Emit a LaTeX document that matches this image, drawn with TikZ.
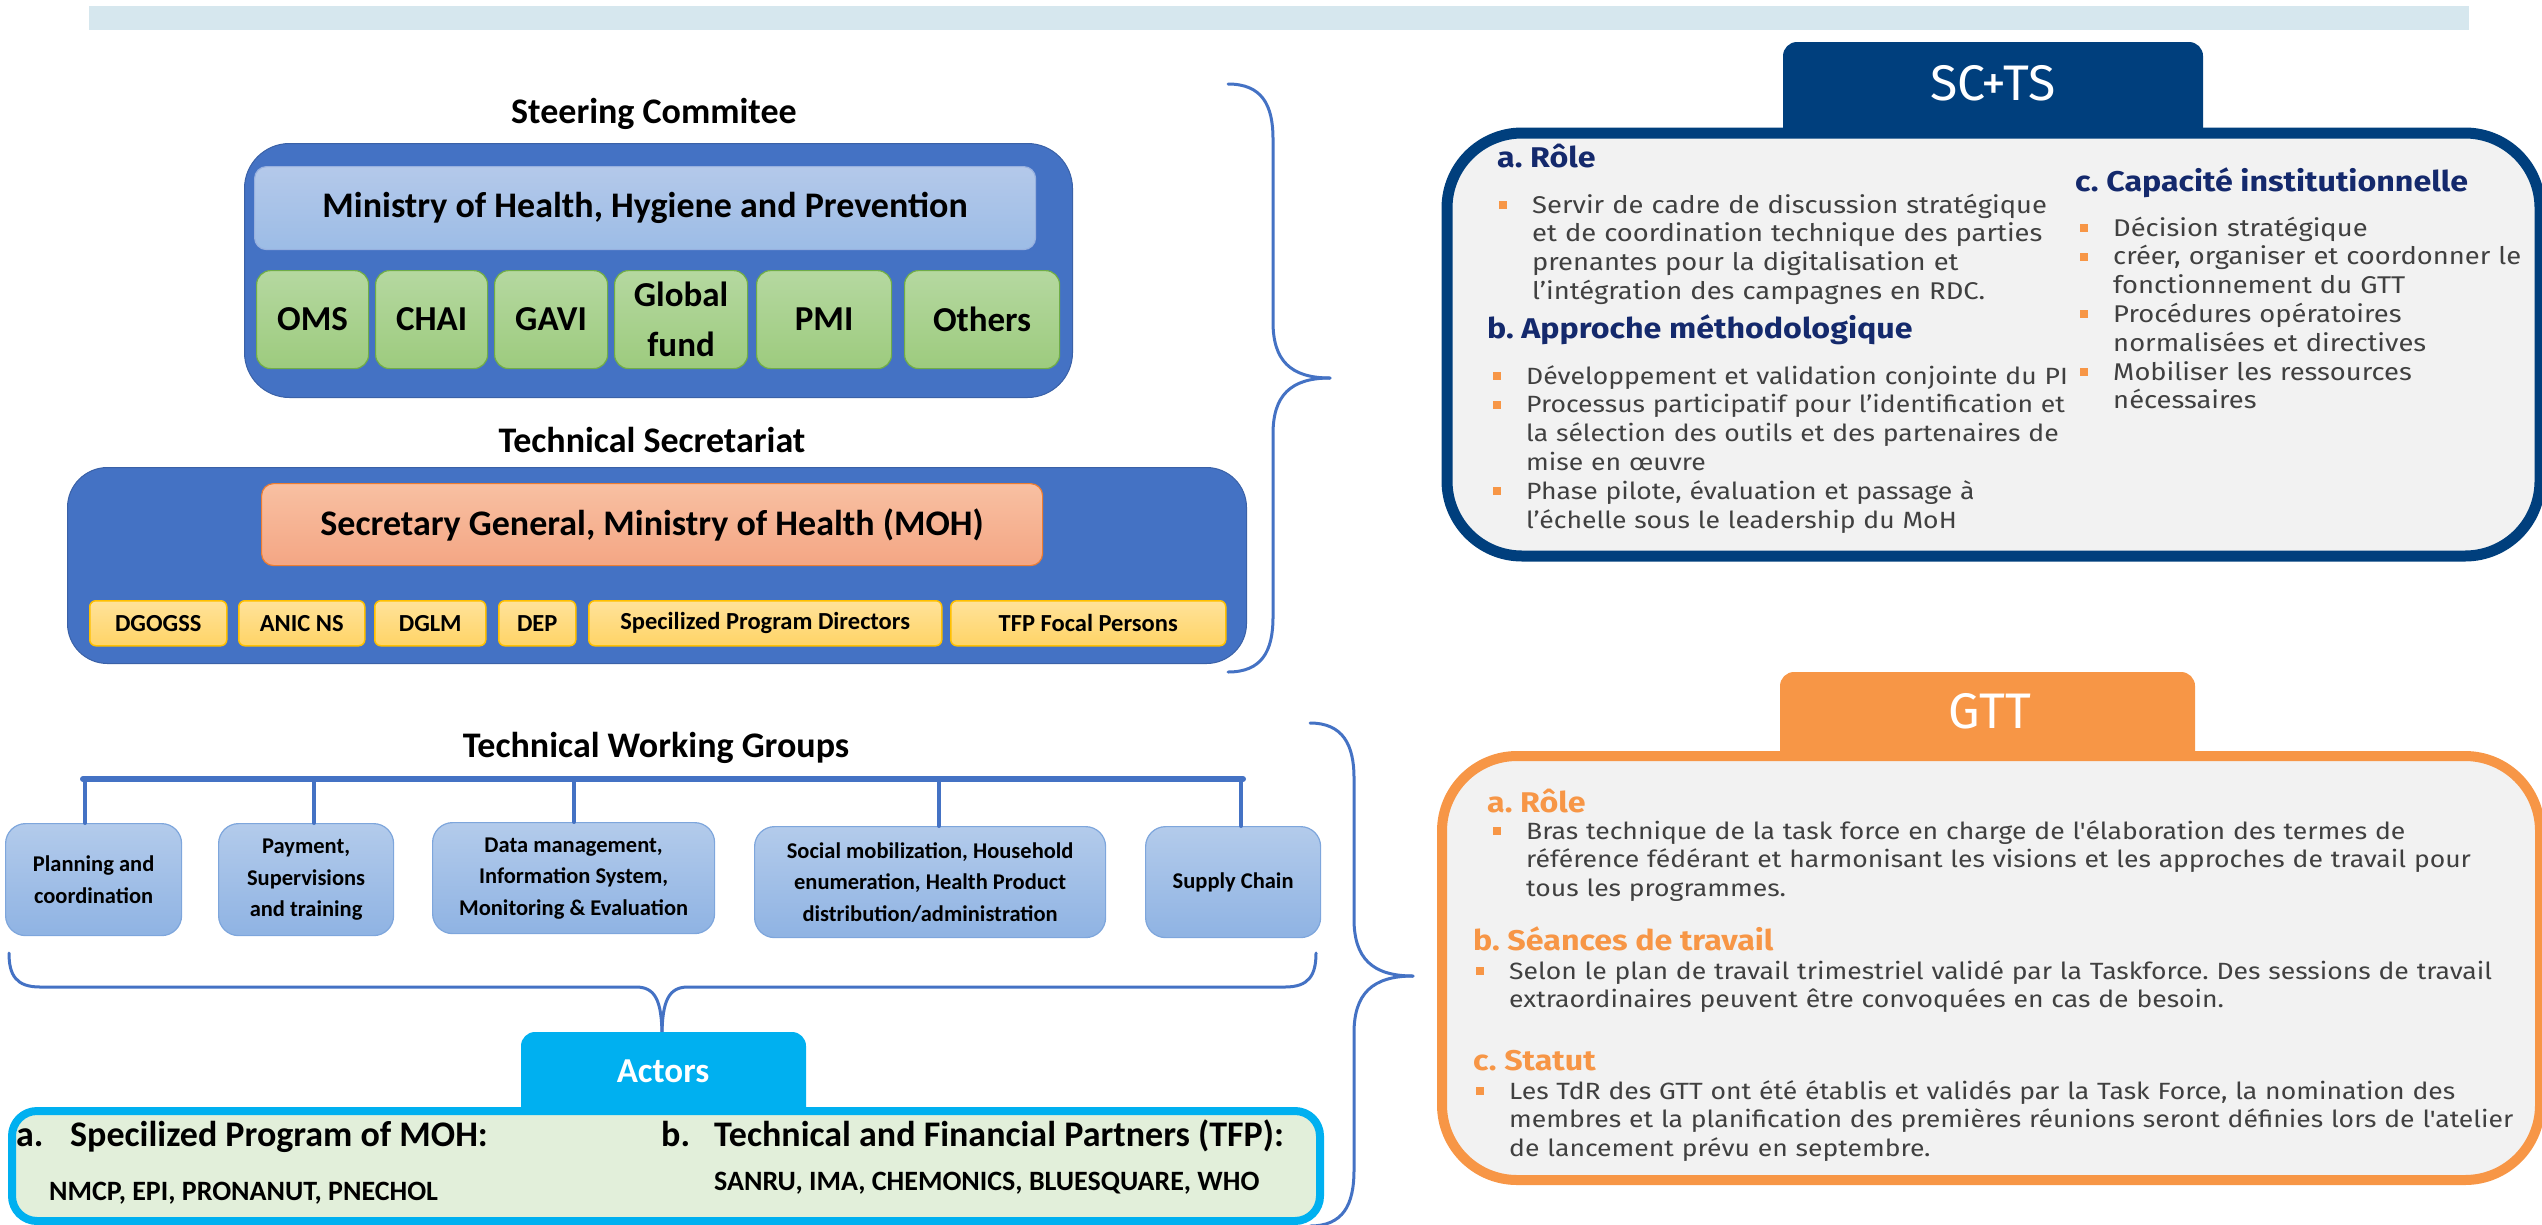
\documentclass[tikz,border=0pt]{standalone}
\usepackage{fontspec}
\setmainfont{Carlito}
\newfontfamily\fira{Fira Sans}
\newfontfamily\firawide{Fira Sans}[FakeStretch=1.13]
\frenchspacing
\definecolor{band}{HTML}{D6E7EE}
\definecolor{scblue}{HTML}{4472C4}
\definecolor{mohtop}{HTML}{B4C9EA}
\definecolor{mohbot}{HTML}{9CBCE6}
\definecolor{greentop}{HTML}{B5D8A0}
\definecolor{greenbot}{HTML}{9DCB7E}
\definecolor{greenedge}{HTML}{70AD47}
\definecolor{salmontop}{HTML}{F8C0A2}
\definecolor{salmonbot}{HTML}{F4A684}
\definecolor{salmonedge}{HTML}{ED7D31}
\definecolor{yellowtop}{HTML}{FFE29A}
\definecolor{yellowbot}{HTML}{FFD466}
\definecolor{yellowedge}{HTML}{FFC000}
\definecolor{twgtop}{HTML}{B3CBEB}
\definecolor{twgbot}{HTML}{8FB3E3}
\definecolor{twgedge}{HTML}{7EA6DC}
\definecolor{navy}{HTML}{003F7D}
\definecolor{navytext}{HTML}{14296C}
\definecolor{gttorange}{HTML}{F79646}
\definecolor{panel}{HTML}{F2F2F2}
\definecolor{bodytext}{HTML}{404040}
\definecolor{actorcyan}{HTML}{00B0F0}
\definecolor{actorgreen}{HTML}{E2EFDA}
% small orange square in front of each point, hanging text
\newcommand{\puce}{\hangindent=33pt\hangafter=1\noindent
  \makebox[33pt][l]{\textcolor{gttorange}{\rule[4pt]{8pt}{8pt}}}}
\tikzset{
  every picture/.style={line join=round, line cap=round},
  grouptitle/.style={font=\fontsize{36}{42}\selectfont\bfseries, inner sep=0},
  bigbox/.style={anchor=north west, fill=scblue, draw=scblue!85!black, line width=1},
  mohbox/.style={anchor=north west, rounded corners=12, top color=mohtop, bottom color=mohbot,
    draw=scblue!55, line width=1.2, font=\fontsize{36}{42}\selectfont\bfseries},
  greenbox/.style={anchor=north west, rounded corners=14, minimum height=98, top color=greentop, bottom color=greenbot,
    draw=greenedge, line width=1.2, font=\fontsize{35}{50}\selectfont\bfseries, align=center, inner sep=0},
  salmonbox/.style={anchor=north west, rounded corners=12, top color=salmontop, bottom color=salmonbot,
    draw=salmonedge, line width=1.2, font=\fontsize{36}{42}\selectfont\bfseries},
  yellowbox/.style={anchor=north west, rounded corners=6, minimum height=45, top color=yellowtop, bottom color=yellowbot,
    draw=yellowedge, line width=1.5, font=\fontsize{24.5}{28}\selectfont\bfseries, inner sep=0},
  twgbox/.style={anchor=north west, rounded corners=20, top color=twgtop, bottom color=twgbot,
    draw=twgedge, line width=1.2, font=\fontsize{22.5}{31.5}\selectfont\bfseries, align=center, inner sep=0},
  twgbar/.style={draw=scblue, line width=6},
  twgdrop/.style={draw=scblue, line width=4},
  brace/.style={draw=scblue, line width=3},
  tabtext/.style={text=white, inner sep=0},
  panelbox/.style={anchor=north west, fill=panel, rounded corners=75, inner sep=0},
  head/.style={anchor=base west, inner sep=0, font=\firawide\bfseries\fontsize{28.5}{32}\selectfont},
  points/.style={anchor=base west, inner sep=0, text width=#1, text=bodytext, font=\firawide\fontsize{23.5}{28.8}\selectfont},
  bigpoints/.style={points=#1, font=\firawide\fontsize{24.2}{28.8}\selectfont},
  actortext/.style={anchor=base west, inner sep=0},
}
\begin{document}
\begin{tikzpicture}[x=1pt, y=-1pt]
\useasboundingbox (0,0) rectangle (2542,1224);
% header band
\fill[band] (89,6) rectangle (2469,30);

% Steering committee
\node[grouptitle] (sctitle) at (654,114) {Steering Commitee};
\node[bigbox, rounded corners=45, minimum width=828, minimum height=254] (sc) at (244,143) {};
\node[mohbox, minimum width=781, minimum height=83] (moh) at (254,166) {Ministry of Health, Hygiene and Prevention};
\node[greenbox, minimum width=112] (oms) at (256,270) {OMS};
\node[greenbox, minimum width=112] (chai) at (375,270) {CHAI};
\node[greenbox, minimum width=113] (gavi) at (494,270) {GAVI};
\node[greenbox, minimum width=133] (gfund) at (614,270) {Global\\fund};
\node[greenbox, minimum width=135] (pmi) at (756,270) {PMI};
\node[greenbox, minimum width=155] (others) at (904,270) {Others};

% Technical secretariat
\node[grouptitle] (tstitle) at (652,440) {Technical Secretariat};
\node[bigbox, rounded corners=40, minimum width=1179, minimum height=196] (ts) at (67,467) {};
\node[salmonbox, minimum width=781, minimum height=82] (sg) at (261,483) {Secretary General, Ministry of Health (MOH)};
\node[yellowbox, minimum width=137] (dgogss) at (89,600) {DGOGSS};
\node[yellowbox, minimum width=126] (anic) at (238,600) {ANIC NS};
\node[yellowbox, minimum width=111] (dglm) at (374,600) {DGLM};
\node[yellowbox, minimum width=77] (dep) at (498,600) {DEP};
\node[yellowbox, minimum width=353] (spd) at (588,600) {Specilized Program Directors};
\node[yellowbox, minimum width=275] (tfp) at (950,600) {TFP Focal Persons};

% brace grouping SC and TS
\draw[brace] (1228,84) .. controls (1262,84) and (1273,105) .. (1273,139) -- (1273,322)
  .. controls (1273,360) and (1290,378) .. (1330,378);
\draw[brace] (1330,378) .. controls (1290,378) and (1273,396) .. (1273,434) -- (1273,617)
  .. controls (1273,651) and (1262,672) .. (1228,672);

% Technical working groups
\node[grouptitle] (twgtitle) at (656,748) {Technical Working Groups};
\node[twgbox, minimum width=176, minimum height=112] (plan) at (5,823) {Planning and\\coordination};
\node[twgbox, minimum width=175, minimum height=112] (pay) at (218,823) {Payment,\\Supervisions\\and training};
\node[twgbox, minimum width=282, minimum height=111] (data) at (432,822) {Data management,\\Information System,\\Monitoring \& Evaluation};
\node[twgbox, minimum width=351, minimum height=111] (social) at (754,826) {Social mobilization, Household\\enumeration, Health Product\\distribution/administration};
\node[twgbox, minimum width=175, minimum height=111] (supply) at (1145,826) {Supply Chain};
\coordinate (barL) at (83,779);
\coordinate (barR) at (1243,779);
\draw[twgbar] (barL) -- (barR);
\foreach \x/\grp in {85/plan, 314/pay, 574/data, 939/social, 1241/supply}
  \draw[twgdrop] (\x,779) -- (\x,0 |- \grp.north);

% brace under the groups
\draw[brace] (9,953) .. controls (9,975) and (16,987) .. (40,987) -- (636,987)
  .. controls (655,987) and (662,1000) .. (662,1037);
\draw[brace] (662,1037) .. controls (662,1000) and (669,987) .. (688,987) -- (1285,987)
  .. controls (1309,987) and (1316,975) .. (1316,953);

% Actors
\fill[actorcyan, rounded corners=14] (521,1125) -- (521,1032) -- (806,1032) -- (806,1125) -- cycle;
\node[tabtext, font=\fontsize{35}{40}\selectfont\bfseries] (actors) at (663,1071) {Actors};
\node[anchor=north west, fill=actorgreen, draw=actorcyan, line width=8, rounded corners=25,
  minimum width=1308, minimum height=110] (actorbox) at (8,1107) {};
\begin{scope}[font=\fontsize{36}{42}\selectfont\bfseries]
  \node[actortext] (moha) at (16,1146) {a.};
  \node[actortext] (mohprog) at (70,1146) {Specilized Program of MOH:};
  \node[actortext] (tfpb) at (661,1146) {b.};
  \node[actortext] (tfplist) at (714,1146) {Technical and Financial Partners (TFP):};
\end{scope}
\node[actortext, font=\fontsize{28}{32}\selectfont\bfseries] (mohnames) at (49,1200) {NMCP, EPI, PRONANUT, PNECHOL};
\node[actortext, font=\fontsize{28}{32}\selectfont\bfseries] (tfpnames) at (714,1190) {SANRU, IMA, CHEMONICS, BLUESQUARE, WHO};

% brace pointing to GTT
\draw[brace] (1310,723) .. controls (1343,723) and (1354,745) .. (1354,778) -- (1354,919)
  .. controls (1354,958) and (1372,976) .. (1413,976);
\draw[brace] (1413,976) .. controls (1372,976) and (1354,994) .. (1354,1033) -- (1354,1170)
  .. controls (1354,1205) and (1343,1226) .. (1310,1226);

% SC+TS panel
\fill[navy, rounded corners=14] (1783,150) -- (1783,42) -- (2203,42) -- (2203,150) -- cycle;
\node[tabtext, font=\fira\fontsize{50}{54}\selectfont] (scts) at (1993,83) {SC+TS};
\node[panelbox, draw=navy, line width=11, minimum width=1093, minimum height=423] (sctsbox) at (1441.5,127.5) {};
\node[head, text=navytext] (sctsa) at (1497,167) {a. Rôle};
\node[bigpoints=640] (sctsalist) at (1499,213) {\puce Servir de cadre de discussion stratégique\newline
  et de coordination technique des parties\newline prenantes pour la digitalisation et\newline
  l’intégration des campagnes en RDC.\par};
\node[head, text=navytext] (sctsb) at (1487,338) {b. Approche méthodologique};
\node[points=640] (sctsblist) at (1493,384) {\puce Développement et validation conjointe du PI
  \par\puce Processus participatif pour l’identification et\newline la sélection des outils et des partenaires de\newline mise en œuvre
  \par\puce Phase pilote, évaluation et passage à\newline l’échelle sous le leadership du MoH\par};
\node[head, text=navytext] (sctsc) at (2075,191) {c. Capacité institutionnelle};
\node[bigpoints=455] (sctsclist) at (2080,236) {\puce Décision stratégique
  \par\puce créer, organiser et coordonner le\newline fonctionnement du GTT
  \par\puce Procédures opératoires\newline normalisées et directives
  \par\puce Mobiliser les ressources\newline nécessaires\par};

% GTT panel
\fill[gttorange, rounded corners=14] (1780,770) -- (1780,672) -- (2195,672) -- (2195,770) -- cycle;
\node[tabtext, font=\fira\fontsize{50}{54}\selectfont] (gtt) at (1990,711) {GTT};
\node[panelbox, draw=gttorange, line width=10, minimum width=1098, minimum height=424] (gttbox) at (1437,751) {};
\node[head, text=gttorange] (gtta) at (1487,812) {a. Rôle};
\node[points=1040] (gttalist) at (1493,839) {\puce Bras technique de la task force en charge de l'élaboration des termes de\newline
  référence fédérant et harmonisant les visions et les approches de travail pour\newline tous les programmes.\par};
\node[head, text=gttorange] (gttb) at (1473,950) {b. Séances de travail};
\node[points=1050] (gttblist) at (1476,979) {\puce Selon le plan de travail trimestriel validé par la Taskforce. Des sessions de travail\newline
  extraordinaires peuvent être convoquées en cas de besoin.\par};
\node[head, text=gttorange] (gttc) at (1473,1070) {c. Statut};
\node[points=1050] (gttclist) at (1476,1099) {\puce Les TdR des GTT ont été établis et validés par la Task Force, la nomination des\newline
  membres et la planification des premières réunions seront définies lors de l'atelier\newline
  de lancement prévu en septembre.\par};
\end{tikzpicture}
\end{document}
